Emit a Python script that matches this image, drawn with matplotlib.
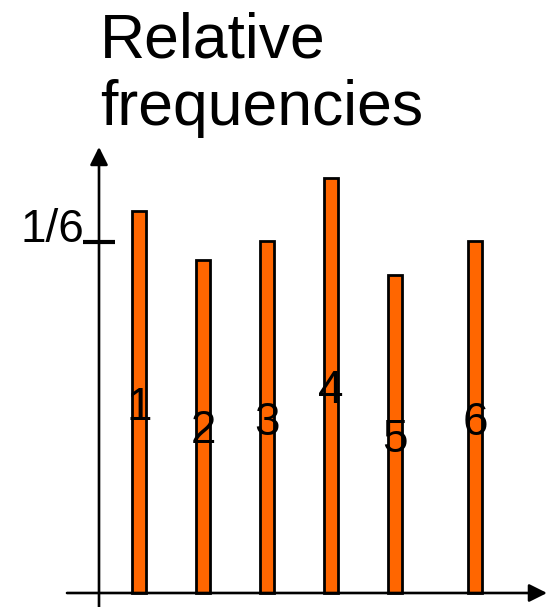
import matplotlib
matplotlib.use('Agg')
import matplotlib.pyplot as plt
import numpy as np

plt.rcParams['font.family'] = ['Liberation Sans', 'DejaVu Sans']

# data
faces = ['1', '2', '3', '4', '5', '6']
rel_freq = [0.181, 0.158, 0.167, 0.197, 0.151, 0.167]
tick_value = 1 / 6
tick_label = '1/6'
title_lines = ['Relative', 'frequencies']

# layout: the last bar sits a bit further right in the original
xpos = np.arange(1, len(faces) + 1, dtype=float)
xpos[-1] += 0.25
label_y = [0.082, 0.071, 0.075, 0.090, 0.067, 0.075]

fig = plt.figure(figsize=(5.5, 6.07), dpi=100)
ax = fig.add_axes([0, 0, 1, 1])
ax.set_xlim(-75 / 64, 475 / 64)
ax.set_ylim(-14 / 2108, 593 / 2108)
ax.axis('off')

orange = '#ff6600'
ax.bar(xpos, rel_freq, width=0.21, color=orange, edgecolor='black',
       linewidth=2, zorder=2)

for x, y, lab in zip(xpos, label_y, faces):
    ax.text(x, y, lab, ha='center', va='baseline', fontsize=33, zorder=3)

# axes drawn by hand with arrow heads
y_axis_x = 0.375
ax.annotate('', xy=(y_axis_x, 0.2116), xytext=(y_axis_x, -14 / 2108),
            arrowprops=dict(arrowstyle='-|>', lw=1.9, color='black',
                            mutation_scale=27, shrinkA=0, shrinkB=0),
            zorder=4)
ax.annotate('', xy=(7.375, 0), xytext=(-0.125, 0),
            arrowprops=dict(arrowstyle='-|>', lw=1.9, color='black',
                            mutation_scale=27, shrinkA=0, shrinkB=0),
            zorder=4)

# the 1/6 tick
ax.plot([0.125, 0.625], [tick_value, tick_value], color='black', lw=3,
        solid_capstyle='butt', zorder=4)
ax.text(0.14, tick_value, tick_label, ha='right', va='baseline', fontsize=33)

fig.text(100 / 550, 1 - 57 / 607, title_lines[0], ha='left', va='baseline',
         fontsize=45)
fig.text(100 / 550, 1 - 125 / 607, title_lines[1], ha='left', va='baseline',
         fontsize=45)

fig.savefig('out.png', dpi=100)
